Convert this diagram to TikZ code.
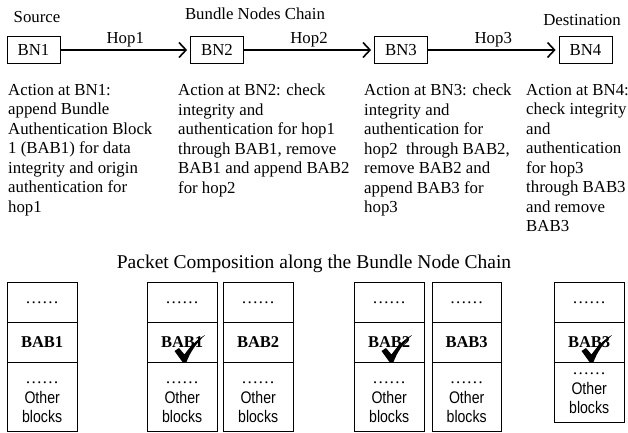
\documentclass[tikz,border=0pt]{standalone}
\usepackage{fontspec}
\setmainfont{Liberation Serif}
\newfontfamily\narrowsans[FakeStretch=0.84]{Liberation Sans}
\usetikzlibrary{arrows.meta}
\begin{document}
\begin{tikzpicture}[x=1pt,y=-1pt,
  every node/.style={font=\fontsize{16.8}{19.5}\selectfont},
  bnbox/.style={draw, line width=0.8pt, minimum width=53pt, minimum height=27pt, inner sep=0pt},
  hoparrow/.style={line width=1.6pt, -{Straight Barb[length=7pt,width=15pt]}, shorten >=3pt},
  hoplabel/.style={above=2.5pt, inner sep=0pt},
  txt/.style={anchor=north west, align=left, inner sep=0pt},
  cell/.style={draw, line width=0.8pt, minimum width=69.5pt, inner sep=0pt, anchor=north west},
  dotcell/.style={cell, minimum height=40pt},
  babcell/.style={cell, minimum height=39.5pt, font=\fontsize{16.5}{19.5}\selectfont\bfseries},
  othercell/.style={cell},
  othertext/.style={anchor=north, align=center, inner sep=0pt, font=\fontsize{16.8}{19.5}\selectfont},
  chk/.style={fill=black}
]
\useasboundingbox (0,0) rectangle (628,432);

% top labels
\node (src) at (37,17) {Source};
\node (chain) at (255,14) {Bundle Nodes Chain};
\node (dst) at (582,20) {Destination};

% bundle nodes
\node[bnbox] (bn1) at (33.5,50) {BN1};
\node[bnbox] (bn2) at (217,50) {BN2};
\node[bnbox] (bn3) at (401,50) {BN3};
\node[bnbox] (bn4) at (585.5,50) {BN4};

\draw[hoparrow] (bn1) -- node[hoplabel]{Hop1} (bn2);
\draw[hoparrow] (bn2) -- node[hoplabel]{Hop2} (bn3);
\draw[hoparrow] (bn3) -- node[hoplabel]{Hop3} (bn4);

% action texts
\node[txt] (t1) at (8,84) {Action at BN1:\\append Bundle\\Authentication Block\\1 (BAB1) for data\\integrity and origin\\authentication for\\hop1};
\node[txt] (t2) at (178,84) {Action at BN2: check\\integrity and\\authentication for hop1\\through BAB1, remove\\BAB1 and append BAB2\\for hop2};
\node[txt] (t3) at (364,84) {Action at BN3: check\\integrity and\\authentication for\\hop2~ through BAB2,\\remove BAB2 and\\append BAB3 for\\hop3};
\node[txt] (t4) at (526,84) {Action at BN4:\\check integrity\\and\\authentication\\for hop3\\through BAB3\\and remove\\BAB3};

% title
\node[anchor=base, font=\fontsize{19.5}{22}\selectfont] (title) at (314,268) {Packet Composition along the Bundle Node Chain};

% packet stacks
\foreach \i/\x/\lab/\h in {1/7/BAB1/69.5,2/147/BAB1/69.5,3/223/BAB2/69.5,4/354/BAB2/69.5,5/431.5/BAB3/69.5,6/554/BAB3/60.5}{
  \node[dotcell] (d\i) at (\x,282) {……};
  \node[babcell] (b\i) at (\x,322) {\lab};
  \node[othercell, minimum height=\h pt] (o\i) at (\x,361.5) {};
  \node[othertext] (ot\i) at ([yshift=50pt]o\i.south) {……\\{\narrowsans Other}\\{\narrowsans blocks}};
}

% check marks
\foreach \i in {2,4,6}{
  \begin{scope}[shift={(o\i.north west)}, xshift=37pt]
    \fill[chk] (-9.5,-10.5) -- (-5,-13.5) -- (0.5,-7) .. controls (6,-15) and (13,-22) .. (21,-26.5) .. controls (12,-18) and (6,-9) .. (2.5,0.5) -- (-1.5,0.5) -- cycle;
  \end{scope}
}
\end{tikzpicture}
\end{document}
